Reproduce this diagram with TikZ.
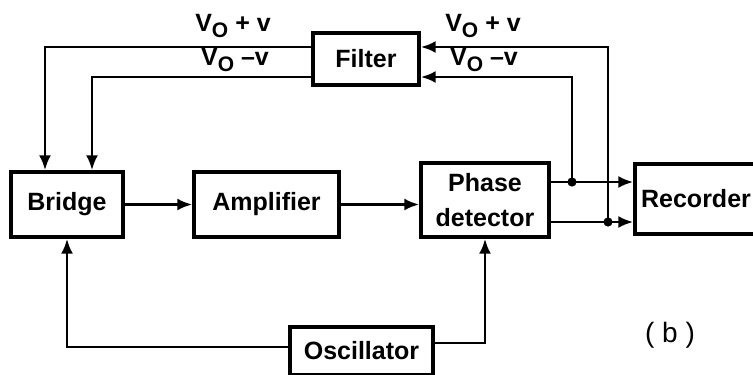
\documentclass[tikz,border=0pt]{standalone}
\usepackage{fontspec}
\setmainfont{Liberation Sans}
\usetikzlibrary{arrows.meta}
\newcommand{\Vo}{V\raisebox{-0.45ex}{\fontsize{10.5}{10}\selectfont O}}

\begin{document}
\begin{tikzpicture}[x=0.5pt,y=-0.5pt,>={Latex[length=7.5pt,width=6pt]}]
        \tikzset{blk/.style={draw,line width=1.7pt,inner sep=0pt,align=center,font=\bfseries\fontsize{12.5}{17.5}\selectfont},lbl/.style={inner sep=0pt,font=\bfseries\fontsize{12.5}{14}\selectfont},wire/.style={line width=1.4pt}}
        \useasboundingbox (0,0) rectangle (753,374);
        \node[blk,minimum width=56pt,minimum height=32.5pt] (bridge) at (67,204.5) {Bridge};
        \node[blk,minimum width=72.5pt,minimum height=32.5pt] (amp) at (266.5,204.5) {Amplifier};
        \node[blk,minimum width=64pt,minimum height=37pt] (phase) at (485,200) {Phase\\detector};
        \node[blk,minimum width=61pt,minimum height=35pt] (rec) at (696,199) {Recorder};
        \node[blk,minimum width=53pt,minimum height=26pt] (filt) at (366,59) {Filter};
        \node[blk,minimum width=71.5pt,minimum height=24pt] (osc) at (361.5,351) {Oscillator};
        \node[lbl] (lblA) at (233,26) {\Vo\ + v};
        \node[lbl] (lblB) at (235,60) {\Vo\ --v};
        \node[lbl] (lblC) at (483,26) {\Vo\ + v};
        \node[lbl] (lblD) at (484,60) {\Vo\ --v};
        \coordinate (kL1) at (45,47);
        \coordinate (kL2) at (92,77);
        \coordinate (kR1) at (608,47);
        \coordinate (kR2) at (572,77);
        \coordinate (dotA) at (572,182);
        \coordinate (dotB) at (608,222);
        \coordinate (oscL) at (67,347);
        \coordinate (oscR) at (487,343);
        % feedback to the bridge
        \draw[wire,->] (filt.west |- kL1) -| (bridge.north -| kL1);
        \draw[wire,->] (filt.west |- kL2) -| (bridge.north -| kL2);
        % main chain
        \draw[wire,->] (bridge) -- (amp);
        \draw[wire,->] (amp.east) -- (amp.east -| phase.west);
        \draw[wire,->] (phase.east |- dotA) -- (rec.west |- dotA);
        \draw[wire,->] (phase.east |- dotB) -- (rec.west |- dotB);
        \draw[wire,->] (dotA) |- (filt.east |- kR2);
        \draw[wire,->] (dotB) |- (filt.east |- kR1);
        \fill (dotA) circle (2.3pt);
        \fill (dotB) circle (2.3pt);
        % oscillator
        \draw[wire,->] (osc.west |- oscL) -| (bridge.south);
        \draw[wire,->] (osc.east |- oscR) -| (phase.south);
        \node[lbl,font=\fontsize{14}{16}\selectfont] (tag) at (670,335) {( b )};
      \end{tikzpicture}
\end{document}
